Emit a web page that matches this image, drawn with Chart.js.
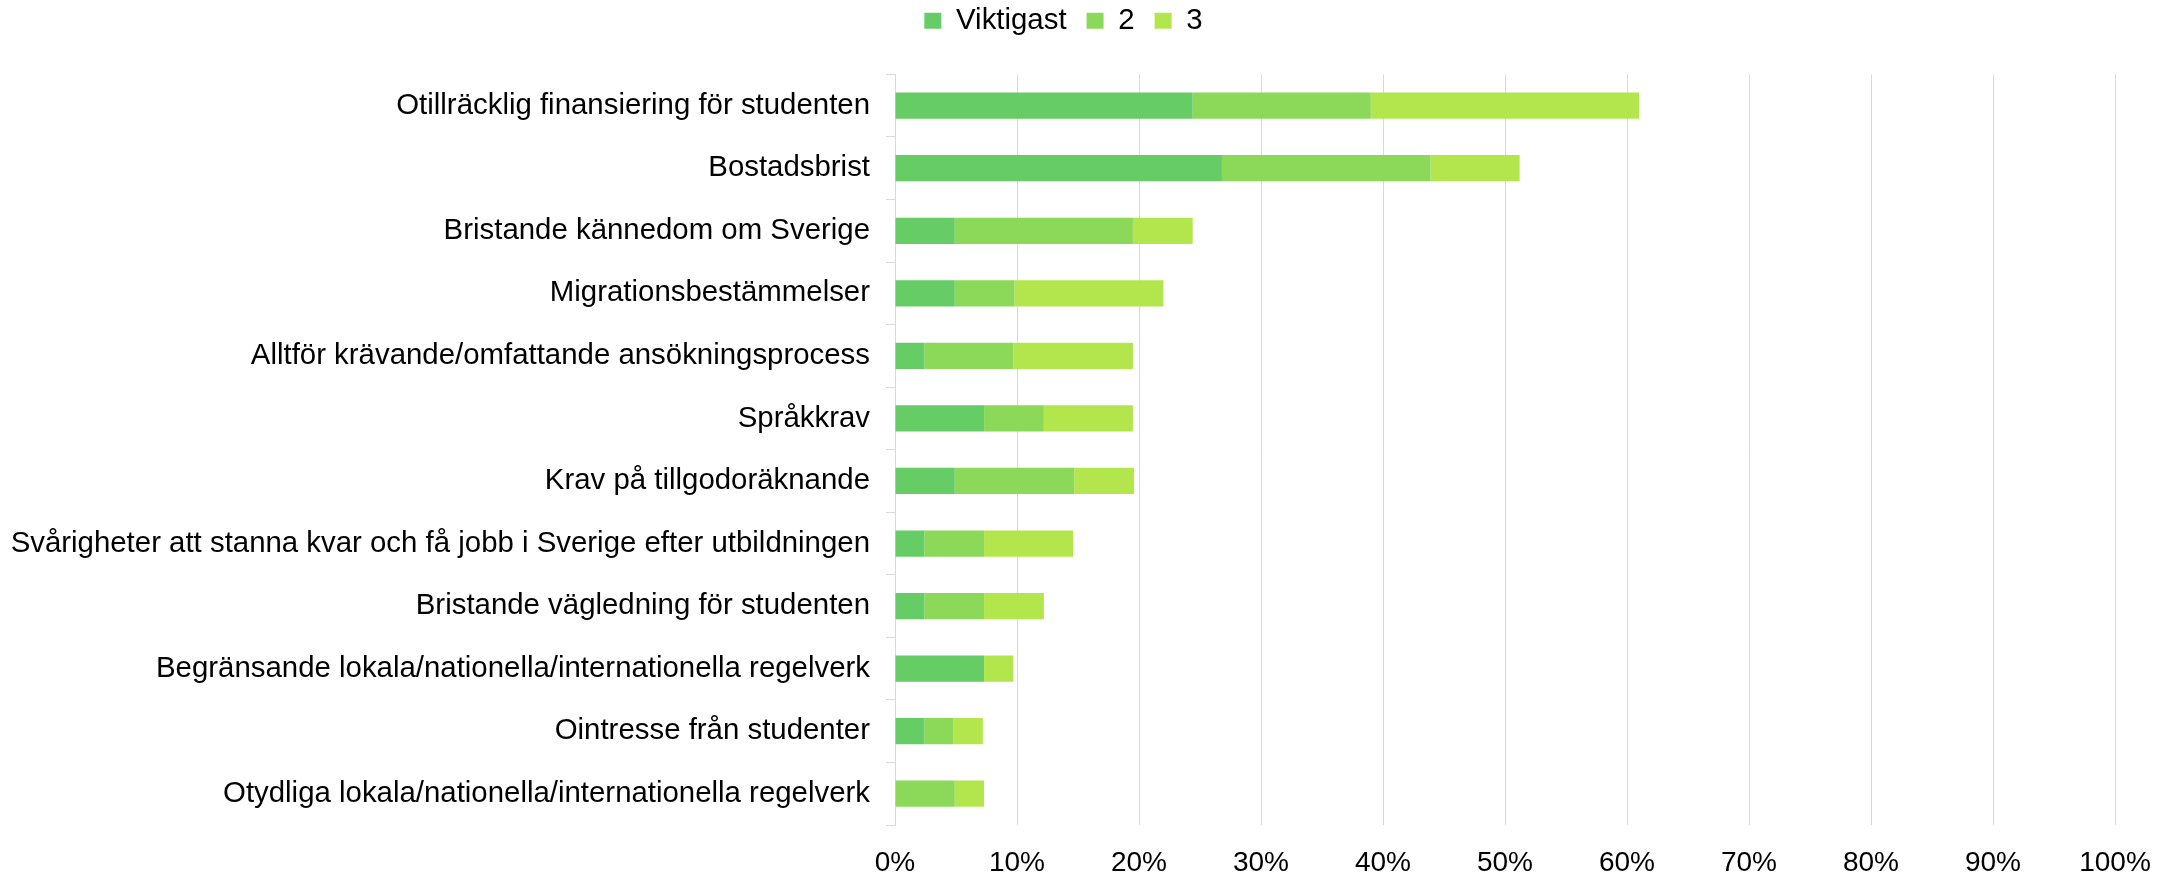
<!DOCTYPE html>
<html lang="sv">
<head>
    <meta charset="UTF-8">
    <title>Hinder</title>
    <script src="https://cdn.jsdelivr.net/npm/chart.js"></script>
    <style>
        body {
    margin: 0;
    background: #fff;
}

#chartContainer {
    width: 2177px;
    height: 875px;
}
    </style>
</head>
<body>

<div id="chartContainer">
    <canvas id="myChart"></canvas>
</div>

<script>
    // Data (andel svarande, %)
    const categories = [
        'Otillräcklig finansiering för studenten',
        'Bostadsbrist',
        'Bristande kännedom om Sverige',
        'Migrationsbestämmelser',
        'Alltför krävande/omfattande ansökningsprocess',
        'Språkkrav',
        'Krav på tillgodoräknande',
        'Svårigheter att stanna kvar och få jobb i Sverige efter utbildningen',
        'Bristande vägledning för studenten',
        'Begränsande lokala/nationella/internationella regelverk',
        'Ointresse från studenter',
        'Otydliga lokala/nationella/internationella regelverk'
    ];
    const viktigast = [24.4, 26.8, 4.9, 4.9, 2.4, 7.3, 4.9, 2.4, 2.4, 7.3, 2.4, 0];
    const andra     = [14.6, 17.1, 14.6, 4.9, 7.3, 4.9, 9.8, 4.9, 4.9, 0, 2.4, 4.9];
    const tredje    = [22.0, 7.3, 4.9, 12.2, 9.8, 7.3, 4.9, 7.3, 4.9, 2.4, 2.4, 2.4];
    const xTicks = [0, 10, 20, 30, 40, 50, 60, 70, 80, 90, 100];

    const font = { family: '"Liberation Sans", Arial, sans-serif', size: 29.4 };
    const gridColor = '#d9d9d9';

    // push the plot area down under the legend
    const legendSpace = {
        id: 'legendSpace',
        beforeInit(chart) {
            const fit = chart.legend.fit;
            chart.legend.fit = function() {
                fit.bind(chart.legend)();
                this.height += 29;
            };
        }
    };

    const ctx = document.getElementById('myChart').getContext('2d');
    const myChart = new Chart(ctx, {
        type: 'bar',
        data: {
            labels: categories,
            datasets: [
                { label: 'Viktigast', data: viktigast, backgroundColor: '#66cc66' },
                { label: '2', data: andra, backgroundColor: '#8cd95a' },
                { label: '3', data: tredje, backgroundColor: '#b3e64d' }
            ]
        },
        options: {
            indexAxis: 'y',
            responsive: true,
            maintainAspectRatio: false,
            animation: false,
            layout: { padding: { left: 12, right: 62, top: -14, bottom: 0 } },
            datasets: {
                bar: { categoryPercentage: 1, barPercentage: 0.42 }
            },
            plugins: {
                legend: {
                    position: 'top',
                    labels: {
                        color: '#000',
                        font: font,
                        boxWidth: 17,
                        boxHeight: 16,
                        padding: 20
                    }
                },
                tooltip: { enabled: false }
            },
            scales: {
                x: {
                    stacked: true,
                    min: 0,
                    max: 100,
                    afterBuildTicks: scale => {
                        scale.ticks = xTicks.map(v => ({ value: v }));
                    },
                    ticks: {
                        color: '#000',
                        font: { family: font.family, size: 28 },
                        padding: 21,
                        maxRotation: 0,
                        callback: v => v + '%'
                    },
                    grid: { color: gridColor, lineWidth: 1, drawTicks: false },
                    border: { display: false },
                    afterFit: scale => {
                        scale.height = 50;
                    }
                },
                y: {
                    stacked: true,
                    ticks: {
                        color: '#000',
                        font: font,
                        padding: 16
                    },
                    grid: {
                        offset: true,
                        drawOnChartArea: false,
                        drawTicks: true,
                        tickLength: 9,
                        color: gridColor
                    },
                    border: { display: true, color: gridColor, width: 1 },
                    afterFit: scale => {
                        scale.width = 883;
                    }
                }
            }
        },
        plugins: [legendSpace]
    });
</script>

</body>
</html>
